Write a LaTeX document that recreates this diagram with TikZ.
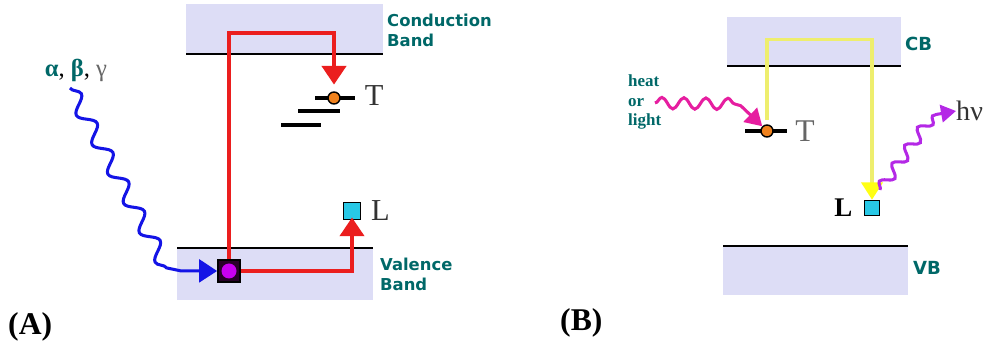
\documentclass[tikz,border=0pt]{standalone}
\usepackage{fontspec}
\setmainfont{Liberation Serif}
\newfontfamily\bandfont{DejaVu Sans}
\usepackage{tikz}
\usetikzlibrary{positioning}
\usetikzlibrary{arrows.meta}
\usetikzlibrary{decorations.pathmorphing}

\definecolor{bandfill}{RGB}{221,221,246}
\definecolor{labelteal}{RGB}{0,104,104}
\definecolor{jumpred}{RGB}{235,30,30}
\definecolor{rayblue}{RGB}{20,20,230}
\definecolor{trapyellow}{RGB}{238,238,110}
\definecolor{headyellow}{RGB}{255,255,20}
\definecolor{heatpink}{RGB}{230,30,160}
\definecolor{glowpurple}{RGB}{180,40,230}
\definecolor{holepurple}{RGB}{200,0,240}
\definecolor{holedark}{RGB}{40,0,40}
\definecolor{trapfill}{RGB}{240,130,30}
\definecolor{lumcyan}{RGB}{40,200,230}

\begin{document}
\begin{tikzpicture}[x=0.03cm, y=-0.03cm,
  band/.style = {fill=bandfill},
  bandedge/.style = {line width=2pt},
  trapline/.style = {line width=2.6pt},
  bandlabel/.style = {text=labelteal, font=\bandfont\bfseries\fontsize{14}{17}\selectfont,
    align=left, inner sep=0pt, anchor=west},
  bigband/.style = {bandlabel, font=\bandfont\bfseries\fontsize{15.4}{18}\selectfont},
  trap/.style = {circle, draw, line width=1.2pt, fill=trapfill, minimum size=0.36cm, inner sep=0pt},
  lumsq/.style = {rectangle, draw, line width=1.4pt, fill=lumcyan, inner sep=0pt},
  letter/.style = {inner sep=0pt, text=black!80, font=\fontsize{26}{30}\selectfont},
  panel/.style = {inner sep=0pt, anchor=west, font=\bfseries\fontsize{27}{32}\selectfont},
  jump/.style = {jumpred, line width=3.4pt, -{Triangle[length=0.56cm, width=0.72cm]}},
  yjump/.style = {trapyellow, line width=2.6pt,
    -{Triangle[length=0.52cm, width=0.64cm, color=headyellow]}},
  wave/.style = {line width=2.6pt, decorate,
    decoration={snake, segment length=#1, amplitude=0.22cm, post length=1.1cm}},
  wave/.default = 1cm
]
\useasboundingbox (0,0) rectangle (987,349);

% (A) ionising radiation fills the traps
\fill[band] (186,4) rectangle (383,54);
\draw[bandedge] (186,54) -- (383,54);
\fill[band] (177,248) rectangle (373,300);
\draw[bandedge] (177,248) -- (373,248);
\node[bandlabel] (cbA) at (387,30) {Conduction\\Band};
\node[bandlabel] (vbA) at (380,274) {Valence\\Band};

\draw[trapline] (315,98) -- (355,98);
\draw[trapline] (298,111) -- (340,111);
\draw[trapline] (281,125) -- (321,125);
\node[trap] (trapA) at (334,98) {};
\node[letter] (tA) [right=0.72cm of trapA, yshift=0.06cm] {T};

\node[lumsq, minimum size=0.52cm] (lumA) at (352,211) {};
\node[letter] (lA) [right=0.28cm of lumA] {L};

\node[rectangle, draw, line width=1.4pt, fill=holedark, minimum size=0.66cm, inner sep=0pt] (holeA) at (229,271) {};
\node[circle, fill=holepurple, minimum size=0.45cm, inner sep=0pt] (eA) at (holeA) {};

\node[inner sep=0pt, font=\fontsize{21}{24}\selectfont] (rays) at (76,70)
  {\textcolor{labelteal}{\textbf{α}}, \textcolor{labelteal}{\textbf{β}}, \textcolor{black!60}{γ}};

\draw[jump, shorten >=0.2cm] (holeA.north) -- ++(0,-226) -| (trapA.north);
\draw[jump, shorten >=-0.09cm] (holeA.east) -| (lumA.south);
\draw[wave, rayblue, -{Triangle[length=0.54cm, width=0.68cm]}]
  (70,88) -- (158,252) .. controls (168,272) .. (holeA.west);

\node[panel] (tagA) at (8,327) {(A)};

% (B) heat or light empties them again
\fill[band] (727,17) rectangle (901,66);
\draw[bandedge] (727,66) -- (901,66);
\fill[band] (723,246) rectangle (908,295);
\draw[bandedge] (723,246) -- (908,246);
\node[bigband] (cbB) at (905,44) {CB};
\node[bigband] (vbB) at (913,268) {VB};

\draw[trapline] (745,131) -- (787,131);
\node[trap] (trapB) at (767,131) {};
\node[letter, text=black!60, font=\fontsize{27}{31}\selectfont] (tB) [right=0.64cm of trapB] {T};

\node[lumsq, minimum size=0.45cm] (lumB) at (872,208) {};
\node[letter, text=black, font=\bfseries\fontsize{23}{27}\selectfont] (lB) [left=0.33cm of lumB] {L};

\node[inner sep=0pt, anchor=west, text=labelteal, align=left,
  font=\bfseries\fontsize{14.5}{17}\selectfont] (heat) at (628,102) {heat\\or\\light};
\node[letter, anchor=west, font=\fontsize{24}{28}\selectfont] (hnu) at (956,111) {hν};

\draw[yjump, shorten <=0.12cm] (trapB.north) -- ++(0,-85) -| (lumB.north);
\draw[wave=0.66cm, heatpink, decoration={amplitude=0.17cm, post length=0.9cm},
  -{Triangle[length=0.5cm, width=0.58cm]}]
  (655,103) -- (732,104) to[out=0, in=135] (trapB.north west);
\draw[wave=0.66cm, glowpurple, decoration={amplitude=0.17cm, post length=0.6cm},
  -{Triangle[length=0.45cm, width=0.52cm]}]
  (880,190) -- (928,122) to[out=55, in=180] (hnu.west);

\node[panel] (tagB) at (560,323) {(B)};
\end{tikzpicture}
\end{document}
